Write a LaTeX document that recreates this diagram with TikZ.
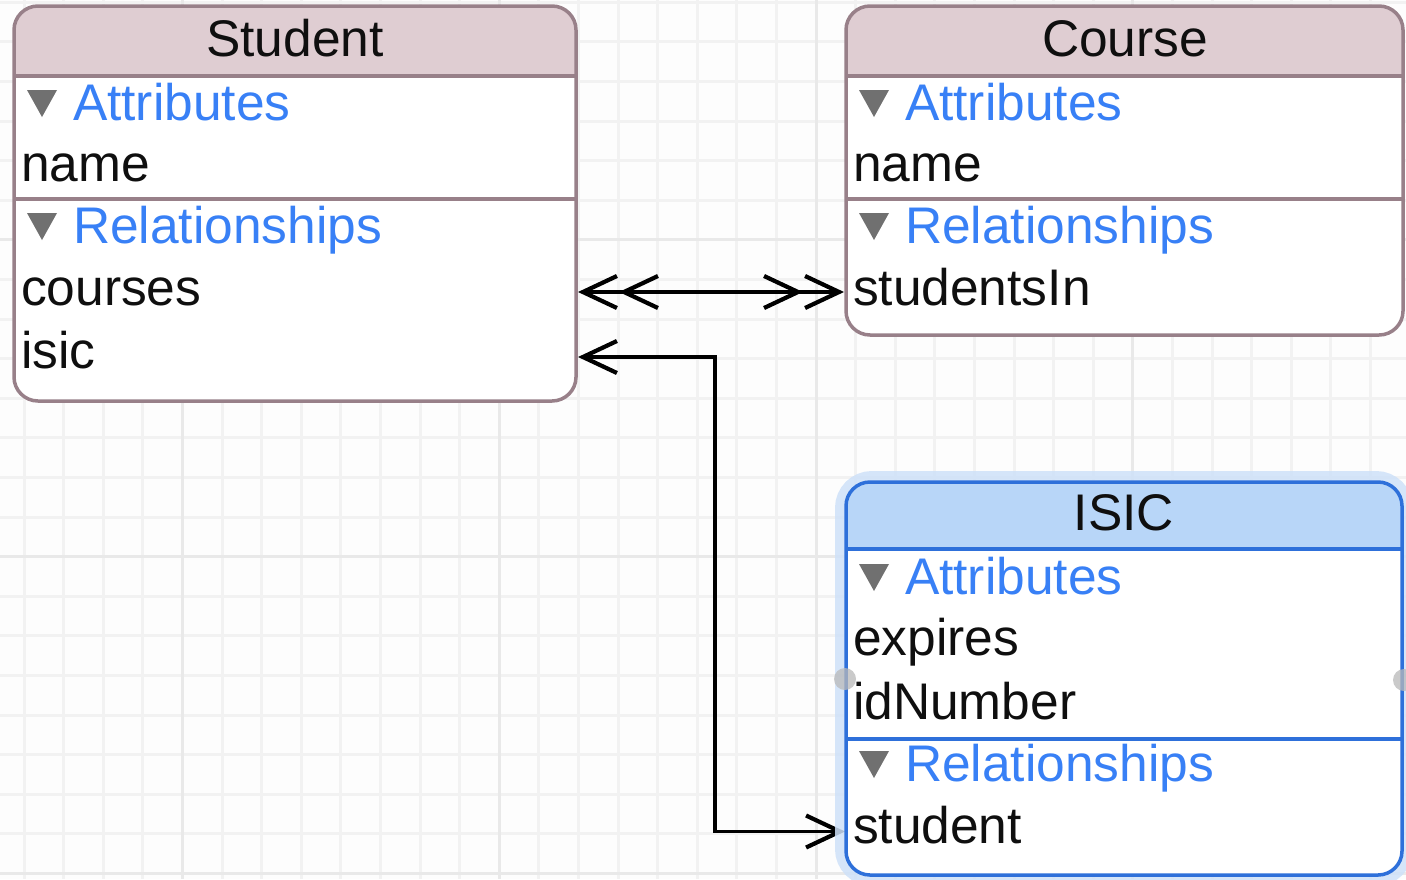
\documentclass[tikz,border=0pt]{standalone}
\usepackage{fontspec}
\setmainfont{Liberation Sans}
\usetikzlibrary{arrows.meta}
\definecolor{bg}{RGB}{253,253,253}
\definecolor{gridminor}{RGB}{242,242,242}
\definecolor{gridmajor}{RGB}{233,233,233}
\definecolor{entborder}{RGB}{152,128,137}
\definecolor{enthead}{RGB}{223,205,210}
\definecolor{selborder}{RGB}{46,112,218}
\definecolor{selhead}{RGB}{184,214,248}
\definecolor{selglow}{RGB}{206,225,249}
\definecolor{sectblue}{RGB}{56,128,246}
\definecolor{trigray}{RGB}{112,112,112}
\definecolor{handlegray}{RGB}{185,185,185}
\definecolor{txt}{RGB}{15,15,15}
\newcommand\sectri[2]{\fill[trigray] (#1,#2-30) -- (#1+30,#2-30) -- (#1+15,#2-3) -- cycle;}
\begin{document}
\begin{tikzpicture}[x=1bp,y=-1bp,
  every node/.style={inner sep=0pt, outer sep=0pt},
  bigfont/.style={font=\fontsize{51.5bp}{60bp}\selectfont},
  fieldtxt/.style={bigfont, text=txt, anchor=base west},
  titletxt/.style={bigfont, text=txt, anchor=base},
  secttxt/.style={bigfont, text=sectblue, anchor=base west},
  boxbase/.style={rectangle, fill=white, rounded corners=24bp, anchor=north west},
  entline/.style={draw=entborder, line width=3.5bp},
  selline/.style={draw=selborder, line width=3.5bp},
  conn/.style={draw=black, line width=3.6bp},
  >={Straight Barb[length=34bp,width=32bp,line width=4.2bp,sep=0bp]},
  handledot/.style={circle, fill=handlegray, opacity=.75, minimum size=22bp}
]
\useasboundingbox (0,0) rectangle (1406,879);
\fill[bg] (0,0) rectangle (1406,879);
% grid
\foreach \k in {0,...,34} {\pgfmathsetmacro\xx{24+39.6*\k}
  \draw[gridminor, line width=3bp] (\xx,0) -- (\xx,879);}
\foreach \k in {0,...,22} {\pgfmathsetmacro\yy{2.3+39.6*\k}
  \draw[gridminor, line width=3bp] (0,\yy) -- (1406,\yy);}
\foreach \k in {4,12,20,28} {\pgfmathsetmacro\xx{24+39.6*\k}
  \draw[gridmajor, line width=3bp] (\xx,0) -- (\xx,879);}
\foreach \k in {6,14,22} {\pgfmathsetmacro\yy{2.3+39.6*\k}
  \draw[gridmajor, line width=3bp] (0,\yy) -- (1406,\yy);}

% ports
\coordinate (sCourses) at (578,292);
\coordinate (cStudentsIn) at (844,292);
\coordinate (sIsic) at (578,357);
\coordinate (iStudent) at (845,831.5);

% connectors
\draw[conn, <<->>] (sCourses) -- (cStudentsIn);
\draw[conn, <->] (sIsic) -- ++(137,0) |- (iStudent);

% ---------- Student ----------
\node[boxbase, minimum width=562bp, minimum height=395bp] (student) at (14,6) {};
\begin{scope}
  \clip[rounded corners=24bp] (student.north west) rectangle (student.south east);
  \fill[enthead] (student.north west) rectangle ([yshift=-70bp]student.north east);
\end{scope}
\draw[entline] ([yshift=-70bp]student.north west) -- ([yshift=-70bp]student.north east);
\draw[entline] (14,199) -- (576,199);
\draw[entline, rounded corners=24bp] (student.north west) rectangle (student.south east);
\node[titletxt] (sTitle) at (295,56) {Student};
\sectri{27}{120}
\node[secttxt] (sAttr) at (73,120) {Attributes};
\node[fieldtxt] (sName) at (21,181.5) {name};
\sectri{27}{243}
\node[secttxt] (sRel) at (73,243) {Relationships};
\node[fieldtxt] (sCoursesTxt) at (21,305) {courses};
\node[fieldtxt] (sIsicTxt) at (21,368.5) {isic};

% ---------- Course ----------
\node[boxbase, minimum width=557bp, minimum height=329bp] (course) at (846,6) {};
\begin{scope}
  \clip[rounded corners=24bp] (course.north west) rectangle (course.south east);
  \fill[enthead] (course.north west) rectangle ([yshift=-70bp]course.north east);
\end{scope}
\draw[entline] ([yshift=-70bp]course.north west) -- ([yshift=-70bp]course.north east);
\draw[entline] (846,199) -- (1403,199);
\draw[entline, rounded corners=24bp] (course.north west) rectangle (course.south east);
\node[titletxt] (cTitle) at (1125,56) {Course};
\sectri{859}{120}
\node[secttxt] (cAttr) at (905,120) {Attributes};
\node[fieldtxt] (cName) at (853,181.5) {name};
\sectri{859}{243}
\node[secttxt] (cRel) at (905,243) {Relationships};
\node[fieldtxt] (cStudentsInTxt) at (853,305) {studentsIn};

% ---------- ISIC (selected) ----------
\draw[selglow, line width=22bp, opacity=.85, rounded corners=26bp] (846,482) rectangle (1402,875);
\node[boxbase, minimum width=556bp, minimum height=393bp] (isic) at (846,482) {};
\begin{scope}
  \clip[rounded corners=24bp] (isic.north west) rectangle (isic.south east);
  \fill[selhead] (isic.north west) rectangle ([yshift=-67bp]isic.north east);
\end{scope}
\draw[selline] ([yshift=-67bp]isic.north west) -- ([yshift=-67bp]isic.north east);
\draw[selline] (846,739) -- (1402,739);
\draw[selline, rounded corners=24bp] (isic.north west) rectangle (isic.south east);
\node[titletxt] (iTitle) at (1124,530) {ISIC};
\sectri{859}{594}
\node[secttxt] (iAttr) at (905,594) {Attributes};
\node[fieldtxt] (iExpires) at (853,655.5) {expires};
\node[fieldtxt] (iIdNumber) at (853,719) {idNumber};
\sectri{859}{781}
\node[secttxt] (iRel) at (905,781) {Relationships};
\node[fieldtxt] (iStudentTxt) at (853,843) {student};

% handles
\node[handledot] (hLeft) at (845,679) {};
\node[handledot] (hRight) at (1404,680) {};
\end{tikzpicture}
\end{document}
